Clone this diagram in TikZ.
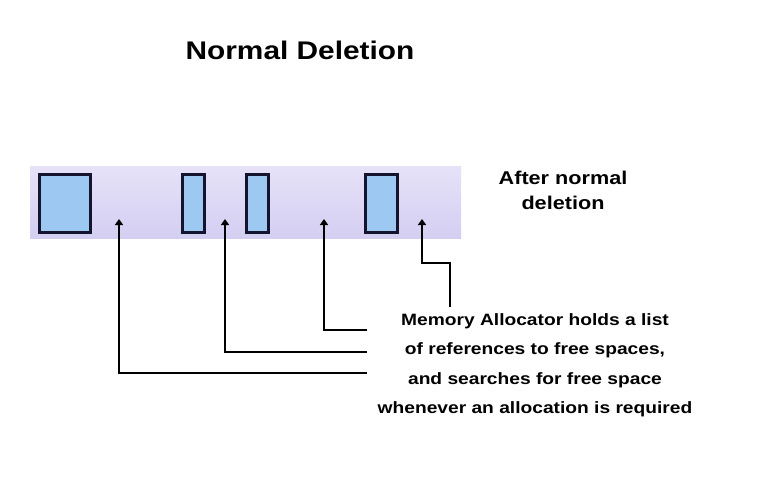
\documentclass[tikz,border=0pt]{standalone}
\usepackage{fontspec}
\setmainfont{Liberation Sans}[FakeStretch=1.17]
\usetikzlibrary{arrows.meta}
\definecolor{bandtop}{HTML}{E6E2F8}
\definecolor{bandbot}{HTML}{D4CEF2}
\definecolor{blockfill}{HTML}{9DC8F2}
\definecolor{blockline}{HTML}{14142E}
\tikzset{
  block/.style={draw=blockline, line width=3pt, fill=blockfill, inner sep=0pt, anchor=north west},
  link/.style={line width=2.5pt}
}

\begin{document}
\begin{tikzpicture}[x=1pt,y=-1pt,>={Triangle[length=6pt,width=8pt]}]
\useasboundingbox[fill=white] (0,0) rectangle (783,491);
\node[font=\fontsize{25.5}{30}\selectfont\bfseries] (title) at (300,50) {Normal Deletion};
% memory band with the blocks still in use
\node[shade, top color=bandtop, bottom color=bandbot, inner sep=0pt, anchor=north west,
  minimum width=431, minimum height=72] (memory) at (30,166) {};
\node[block, minimum width=51, minimum height=58] (b1) at (38,173) {};
\node[block, minimum width=22, minimum height=58] (b2) at (181,173) {};
\node[block, minimum width=22, minimum height=58] (b3) at (245,173) {};
\node[block, minimum width=32, minimum height=58] (b4) at (364,173) {};
\node[font=\fontsize{18.5}{25}\selectfont\bfseries, align=center] (after) at (563,190) {After normal\\deletion};
\node[font=\fontsize{16.4}{29.5}\selectfont\bfseries, align=center] (note) at (535,365)
  {Memory Allocator holds a list\\of references to free spaces,\\and searches for free space\\whenever an allocation is required};
% free spaces
\coordinate (gap1) at (119,219);
\coordinate (gap2) at (225,219);
\coordinate (gap3) at (324,219);
\coordinate (gap4) at (422,219);
\coordinate (bend4) at (422,263);
\coordinate (s1) at (367,373);
\coordinate (s2) at (367,352);
\coordinate (s3) at (367,330);
\coordinate (s4) at (450,307);
\draw[link,->] (s1) -| (gap1);
\draw[link,->] (s2) -| (gap2);
\draw[link,->] (s3) -| (gap3);
\draw[link,->] (s4) |- (bend4) -- (gap4);
\end{tikzpicture}
\end{document}
